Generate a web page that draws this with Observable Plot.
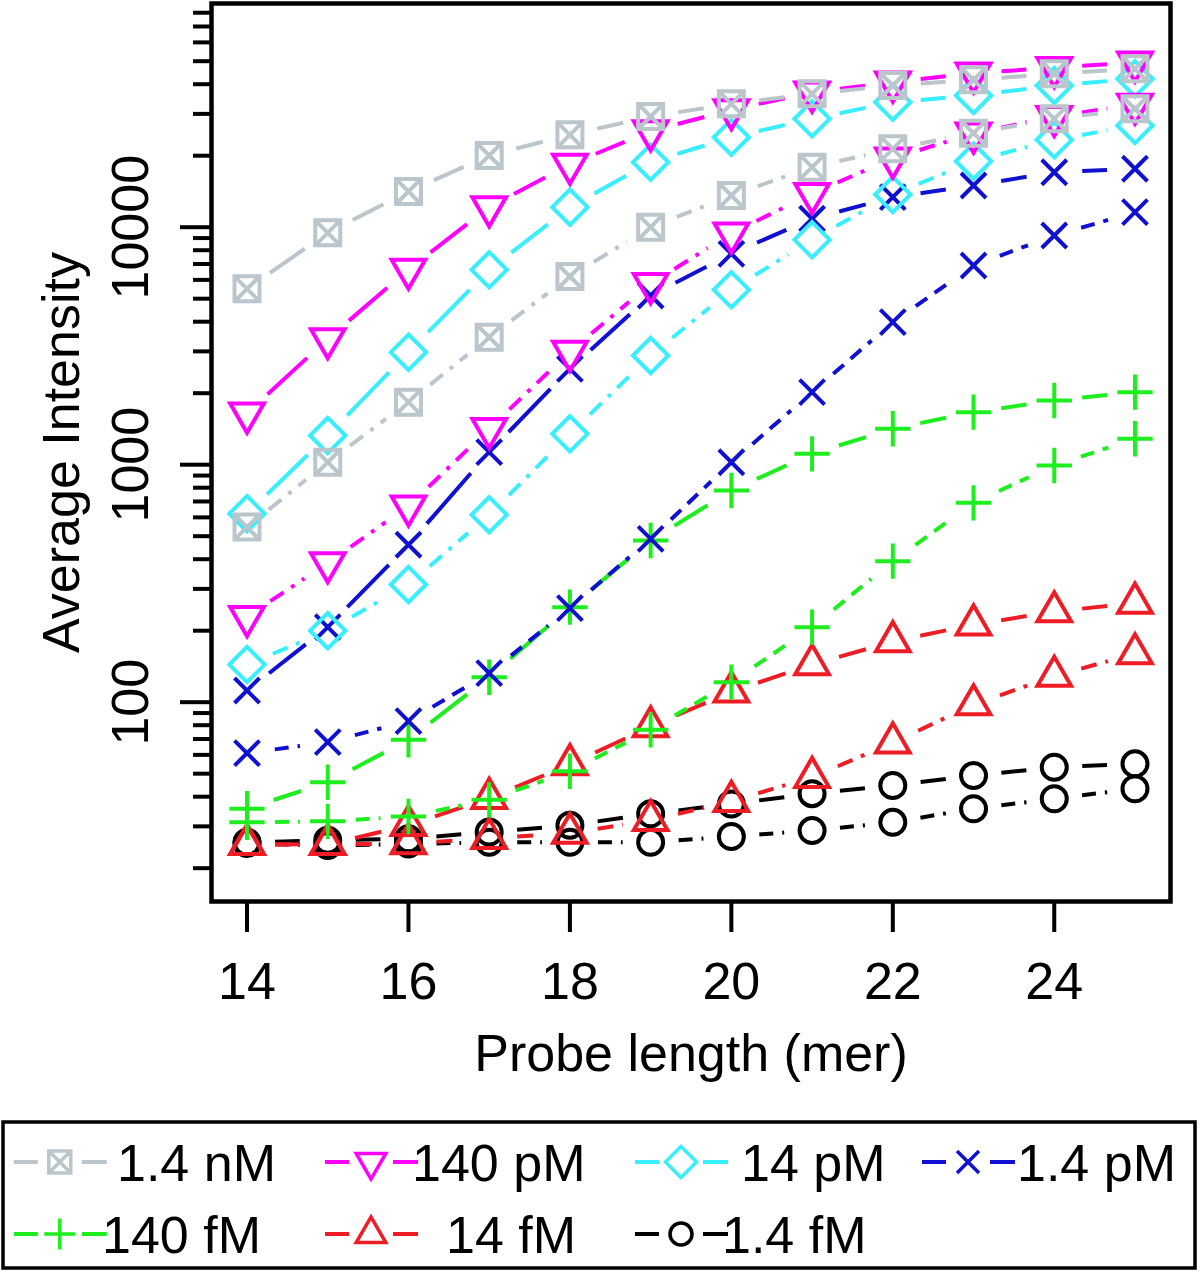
<!DOCTYPE html>
<html>
<head>
<meta charset="utf-8">
<script src="https://cdn.jsdelivr.net/npm/d3@7"></script>
<script src="https://cdn.jsdelivr.net/npm/@observablehq/plot@0.6"></script>
<style>
  html, body { margin: 0; padding: 0; background: #fff; overflow: hidden; }
  #chart { width: 1200px; height: 1274px; font-family: "Liberation Sans", Arial, sans-serif; }
  #chart svg { display: block; }
</style>
</head>
<body>
<div id="chart"></div>
<script>
// ---- data ----
const probeLength = [14, 15, 16, 17, 18, 19, 20, 21, 22, 23, 24, 25];
const concentrations = ["1.4 nM", "140 pM", "14 pM", "1.4 pM", "140 fM", "14 fM", "1.4 fM"];
const colors = ["#BAC5CC", "#FF00FF", "#38EEFF", "#1010D0", "#1EEE1E", "#EE1C24", "#000000"];

// upper (solid) and lower (dashed) curve of each concentration
const nM1_4_upper  = [5503, 9471, 14140, 20040, 24490, 29250, 33080, 36450, 39500, 41740, 44240, 46440];
const nM1_4_lower  = [546, 1024, 1834, 3441, 6200, 10000, 13600, 17890, 21380, 24880, 28600, 31510];
const pM140_upper  = [1646, 3386, 6641, 12160, 18380, 25390, 31180, 37020, 40790, 44500, 46950, 49470];
const pM140_lower  = [229, 386, 669, 1418, 2994, 5776, 9426, 13840, 19510, 24860, 29220, 32890];
const pM14_upper   = [622, 1327, 2977, 6615, 12140, 18780, 23920, 28600, 33600, 35850, 39500, 42150];
const pM14_lower   = [144, 200, 313, 615, 1349, 2883, 5450, 8849, 13730, 18960, 23330, 26810];
const pM1_4_upper  = [112, 207, 460, 1129, 2534, 5156, 7727, 10850, 13380, 14980, 17040, 17620];
const pM1_4_lower  = [61.0, 67.9, 83.2, 132.5, 248.8, 487.5, 1024, 2020, 3981, 6897, 9226, 11570];
const fM140_upper  = [35.6, 46.0, 69.4, 127.4, 251.2, 479.5, 778.7, 1111, 1417, 1664, 1864, 2020];
const fM140_lower  = [31.2, 31.5, 33.0, 38.8, 51.2, 76.5, 121.4, 206.9, 392.4, 691.1, 992.2, 1286];
const fM14_upper   = [25.2, 25.2, 30.3, 39.4, 54.7, 78.9, 110.7, 144.1, 180.0, 212.0, 240.7, 261.6];
const fM14_lower   = [25.2, 25.2, 25.4, 26.7, 28.1, 31.8, 38.3, 48.3, 67.5, 97.7, 128.8, 160.2];
const fM1_4_upper  = [25.7, 26.2, 26.6, 28.4, 30.3, 33.9, 37.3, 41.2, 44.6, 49.1, 53.2, 55.0];
const fM1_4_lower  = [25.4, 24.9, 25.3, 25.7, 25.7, 25.7, 27.2, 28.8, 31.2, 35.6, 39.2, 43.2];

const xTicks = [14, 16, 18, 20, 22, 24];
const yMajorTicks = [100, 1000, 10000];
const yMinorTicks = [20, 30, 40, 50, 60, 70, 80, 90, 200, 300, 400, 500, 600, 700, 800, 900,
                     2000, 3000, 4000, 5000, 6000, 7000, 8000, 9000, 20000, 30000, 40000, 50000, 60000, 70000, 80000];
const xTitle = "Probe length (mer)";
const yTitle = "Average Intensity";

// ---- symbols (R pch 7, 6, 5, 4, 3, 2, 1) ----
const shapes = {
  squareX(c, s) { c.moveTo(-s, -s); c.lineTo(s, -s); c.lineTo(s, s); c.lineTo(-s, s); c.closePath();
                  c.moveTo(-s, -s); c.lineTo(s, s); c.moveTo(s, -s); c.lineTo(-s, s); },
  triDown(c, s) { c.moveTo(-1.347 * s, -0.778 * s); c.lineTo(1.347 * s, -0.778 * s); c.lineTo(0, 1.555 * s); c.closePath(); },
  diamond(c, s) { const d = 1.414 * s; c.moveTo(0, -d); c.lineTo(d, 0); c.lineTo(0, d); c.lineTo(-d, 0); c.closePath(); },
  times(c, s) { c.moveTo(-s, -s); c.lineTo(s, s); c.moveTo(s, -s); c.lineTo(-s, s); },
  plus(c, s) { const d = 1.414 * s; c.moveTo(-d, 0); c.lineTo(d, 0); c.moveTo(0, -d); c.lineTo(0, d); },
  triUp(c, s) { c.moveTo(-1.347 * s, 0.778 * s); c.lineTo(1.347 * s, 0.778 * s); c.lineTo(0, -1.555 * s); c.closePath(); },
  circle(c, s) { c.moveTo(s, 0); c.arc(0, 0, s, 0, 2 * Math.PI); }
};
const symbolOf = (f) => ({ draw(ctx, size) { f(ctx, Math.sqrt(size / Math.PI)); } });

const DOTDASH = "16,9,4,9";
const DASHED = "14,9";
const series = [
  { name: concentrations[0], color: colors[0], shape: "squareX", upper: nM1_4_upper, lower: nM1_4_lower, dash: DOTDASH },
  { name: concentrations[1], color: colors[1], shape: "triDown", upper: pM140_upper, lower: pM140_lower, dash: DOTDASH },
  { name: concentrations[2], color: colors[2], shape: "diamond", upper: pM14_upper, lower: pM14_lower, dash: DOTDASH },
  { name: concentrations[3], color: colors[3], shape: "times", upper: pM1_4_upper, lower: pM1_4_lower, dash: DASHED },
  { name: concentrations[4], color: colors[4], shape: "plus", upper: fM140_upper, lower: fM140_lower, dash: DASHED },
  { name: concentrations[5], color: colors[5], shape: "triUp", upper: fM14_upper, lower: fM14_lower, dash: DOTDASH },
  { name: concentrations[6], color: colors[6], shape: "circle", upper: fM1_4_upper, lower: fM1_4_lower, dash: DASHED }
];

const FONT = 52;
const LW = 4;
const marks = [];

// draw lowest concentration first, so 1.4 nM ends on top
for (const s of series.slice().reverse()) {
  for (const [vals, dash] of [[s.upper, null], [s.lower, s.dash]]) {
    const segs = d3.range(probeLength.length - 1).map(i => ({
      x1: probeLength[i], y1: vals[i], x2: probeLength[i + 1], y2: vals[i + 1]
    }));
    const opts = { x1: "x1", y1: "y1", x2: "x2", y2: "y2", stroke: s.color, strokeWidth: LW,
                   headLength: 0, insetStart: 28, insetEnd: 28, strokeLinecap: "butt" };
    if (dash) opts.strokeDasharray = dash;
    marks.push(Plot.arrow(segs, opts));
  }
  const pts = probeLength.flatMap((x, i) => [{ x, y: s.upper[i] }, { x, y: s.lower[i] }]);
  marks.push(Plot.dot(pts, { x: "x", y: "y", r: 12.5, symbol: symbolOf(shapes[s.shape]),
                             stroke: s.color, strokeWidth: LW, fill: "none" }));
}

marks.push(Plot.frame({ stroke: "black", strokeWidth: 4.5 }));
marks.push(Plot.axisX(xTicks, { anchor: "bottom", tickSize: 31, tickPadding: 30, fontSize: FONT,
                                strokeWidth: 4, label: null, fill: "black" }));
marks.push(Plot.axisY(yMajorTicks, { anchor: "left", tickSize: 31, strokeWidth: 4, tickFormat: () => "", label: null }));
marks.push(Plot.axisY(yMinorTicks, { anchor: "left", tickSize: 18, strokeWidth: 4, tickFormat: () => "", label: null }));
marks.push(Plot.text(yMajorTicks, { y: d => d, text: d => String(d), frameAnchor: "left", rotate: -90,
                                    textAnchor: "middle", lineAnchor: "bottom", dx: -64, fontSize: FONT, fill: "black" }));
marks.push(Plot.text([yTitle], { text: d => d, frameAnchor: "left", rotate: -90, textAnchor: "middle",
                                 lineAnchor: "bottom", dx: -133, fontSize: FONT, fill: "black" }));
marks.push(Plot.text([xTitle], { text: d => d, frameAnchor: "bottom", textAnchor: "middle",
                                 lineAnchor: "bottom", dy: 169, fontSize: FONT, fill: "black" }));

const chart = Plot.plot({
  width: 1200,
  height: 1110,
  marginLeft: 211,
  marginRight: 30,
  marginTop: 3,
  marginBottom: 209,
  x: { domain: [13.56, 25.44], axis: null },
  y: { type: "log", domain: [14.48, 87480], axis: null },
  style: { fontFamily: "'Liberation Sans', Arial, sans-serif", fontSize: FONT + "px", color: "black", background: "white" },
  marks
});
document.getElementById("chart").appendChild(chart);

// ---- legend below the plot ----
const leg = d3.create("svg").attr("width", 1200).attr("height", 164)
  .style("font-family", "'Liberation Sans', Arial, sans-serif");
leg.append("rect").attr("x", 3).attr("y", 12).attr("width", 1192).attr("height", 146)
  .attr("fill", "none").attr("stroke", "black").attr("stroke-width", 3.5);
const legendLayout = [
  { col: 13.8, row: 0, textX: 117 }, { col: 325, row: 0, textX: 412 },
  { col: 635, row: 0, textX: 741 },  { col: 922, row: 0, textX: 1017 },
  { col: 13.8, row: 1, textX: 102 }, { col: 325, row: 1, textX: 446 },
  { col: 635, row: 1, textX: 722 }
];
const rowLineY = [52, 124], rowBase = [71, 143];
series.forEach((s, i) => {
  const L = legendLayout[i];
  const g = leg.append("g");
  const y = rowLineY[L.row];
  g.append("line").attr("x1", L.col).attr("x2", L.col + 24).attr("y1", y).attr("y2", y)
    .attr("stroke", s.color).attr("stroke-width", LW);
  g.append("line").attr("x1", L.col + 68).attr("x2", L.col + 93).attr("y1", y).attr("y2", y)
    .attr("stroke", s.color).attr("stroke-width", LW);
  const p = d3.path();
  shapes[s.shape](p, 11);
  g.append("path").attr("d", p.toString()).attr("transform", `translate(${L.col + 46},${y})`)
    .attr("fill", "none").attr("stroke", s.color).attr("stroke-width", 3.5);
  g.append("text").attr("x", L.textX).attr("y", rowBase[L.row]).attr("font-size", FONT)
    .attr("fill", "black").text(s.name);
});
document.getElementById("chart").appendChild(leg.node());
</script>
</body>
</html>
